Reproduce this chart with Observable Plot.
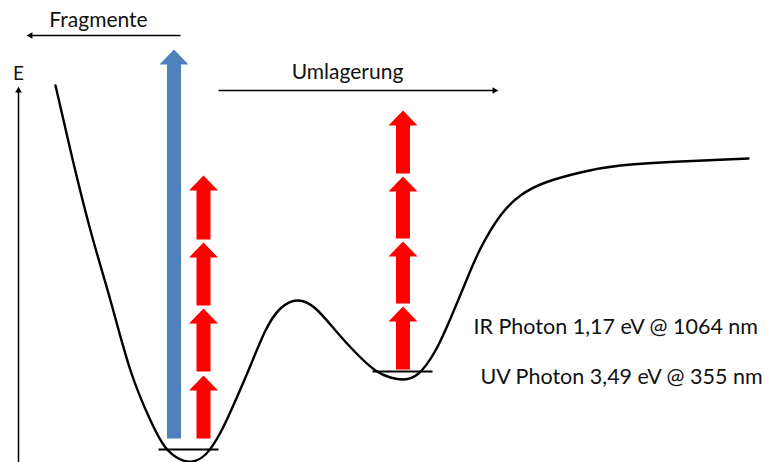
<!DOCTYPE html>
<html><head><meta charset="utf-8">
<script src="https://cdn.jsdelivr.net/npm/d3@7"></script>
<script src="https://cdn.jsdelivr.net/npm/@observablehq/plot@0.6"></script>
<style>html,body{margin:0;padding:0;background:#fff;}</style>
</head><body><div id="chart"></div>
<script>
// Potential energy curve (x: reaction coordinate, e: energy, arbitrary units)
const curveX = [55,70,90,110,130,150,165,180,192,205,220,235,250,265,280,297,315,335,355,375,390,403,418,435,450,465,480,500,520,545,580,620,680,748];
const curveE = [377,312,232,162,92,42,15,3,1,8,30,62,97,132,154,162,154,132,110,92,85,83,89,112,144,180,214,247,267,280,290,297,301,304];

// Vibrational ground levels
const levelX1 = [158, 372];
const levelX2 = [218, 432];
const levelE = [13, 91];

// IR photon arrows (1,17 eV each)
const irX = [203,203,203,203,402.5,402.5,402.5,402.5];
const irLow = [24,91,157,223,93,159,224,289];
const irHigh = [87,154,220,287,156,221,286,352];

// UV photon arrow (3,49 eV)
const uvX = [173.5];
const uvLow = [24];
const uvHigh = [413];

// Labels
const labels = ["Fragmente","Umlagerung","E","IR Photon 1,17 eV @ 1064 nm","UV Photon 3,49 eV @ 355 nm"];

const HEAD = 15, SHAFT = 7, HEADW = 14.5;
function blockArrow(x, lo, hi, id) {
  return [
    {id, x: x - SHAFT, e: lo}, {id, x: x + SHAFT, e: lo},
    {id, x: x + SHAFT, e: hi - HEAD}, {id, x: x + HEADW, e: hi - HEAD},
    {id, x: x, e: hi}, {id, x: x - HEADW, e: hi - HEAD},
    {id, x: x - SHAFT, e: hi - HEAD}, {id, x: x - SHAFT, e: lo}
  ];
}
const irPolys = irX.flatMap((x, i) => blockArrow(x, irLow[i], irHigh[i], "ir" + i));
const uvPolys = uvX.flatMap((x, i) => blockArrow(x, uvLow[i], uvHigh[i], "uv" + i));
const curve = curveX.map((x, i) => ({x, e: curveE[i]}));
const levels = levelX1.map((x1, i) => ({x1, x2: levelX2[i], e: levelE[i]}));

const guide = [
  {x1: 180, x2: 30, e: 427},   // Fragmente
  {x1: 218, x2: 494, e: 372},  // Umlagerung
];
const axisLine = [{x: 18, e1: 0, e2: 372}];

const chart = Plot.plot({
  width: 765, height: 462,
  marginTop: 0, marginBottom: 0, marginLeft: 0, marginRight: 0,
  x: {domain: [0, 765], axis: null},
  y: {domain: [0, 462], axis: null},
  style: {fontFamily: "Lato, 'Open Sans', sans-serif", background: "#fff"},
  marks: [
    Plot.line(curve, {x: "x", y: "e", curve: "natural", stroke: "#000", strokeWidth: 2.4}),
    Plot.line(uvPolys, {x: "x", y: "e", z: "id", fill: "#4F81BD", stroke: "none", curve: "linear"}),
    Plot.line(irPolys, {x: "x", y: "e", z: "id", fill: "#FF0000", stroke: "none", curve: "linear"}),
    Plot.link(levels, {x1: "x1", x2: "x2", y1: "e", y2: "e", stroke: "#000", strokeWidth: 2}),
    Plot.link(guide, {x1: "x1", x2: "x2", y1: "e", y2: "e", stroke: "#000", strokeWidth: 1.5}),
    Plot.dot(guide, {x: "x2", y: "e", symbol: "triangle2", r: 3.2, fill: "#000", stroke: "none",
      rotate: (d) => d.x2 < d.x1 ? -90 : 90}),
    Plot.link(axisLine, {x1: "x", x2: "x", y1: "e1", y2: "e2", stroke: "#000", strokeWidth: 1.5}),
    Plot.dot(axisLine, {x: "x", y: "e2", symbol: "triangle2", r: 3.2, fill: "#000", stroke: "none"}),
    Plot.text([labels[0]], {x: 98, y: 442, text: (d) => d, fontSize: 21, fill: "#111"}),
    Plot.text([labels[1]], {x: 347, y: 390, text: (d) => d, fontSize: 21, fill: "#111"}),
    Plot.text([labels[2]], {x: 18, y: 389, text: (d) => d, fontSize: 19, fill: "#111"}),
    Plot.text([labels[3]], {x: 473, y: 135, text: (d) => d, fontSize: 21.5, textAnchor: "start", fill: "#111"}),
    Plot.text([labels[4]], {x: 480, y: 85, text: (d) => d, fontSize: 21.5, textAnchor: "start", fill: "#111"})
  ]
});
document.getElementById("chart").appendChild(chart);
</script>
</body></html>
